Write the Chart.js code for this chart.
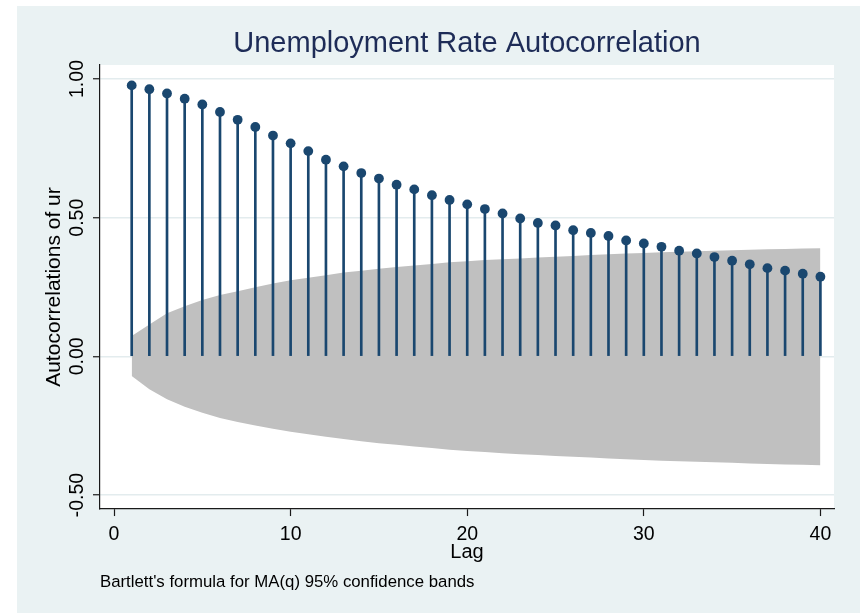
<!DOCTYPE html>
<html>
<head>
<meta charset="utf-8">
<script src="https://cdn.jsdelivr.net/npm/chart.js@4"></script>
<style>
  html, body { margin: 0; padding: 0; background: #fff; }
  #wrap { width: 860px; height: 613px; }
</style>
</head>
<body>
<div id="wrap"><canvas id="acfChart" width="860" height="613"></canvas></div>
<script>
// Lags and sample autocorrelations of the unemployment rate
const lags = [1, 2, 3, 4, 5, 6, 7, 8, 9, 10, 11, 12, 13, 14, 15, 16, 17, 18, 19, 20,
              21, 22, 23, 24, 25, 26, 27, 28, 29, 30, 31, 32, 33, 34, 35, 36, 37, 38, 39, 40];
const acf = [0.977, 0.963, 0.948, 0.929, 0.908, 0.881, 0.853, 0.827, 0.796, 0.768,
             0.740, 0.709, 0.685, 0.661, 0.641, 0.619, 0.602, 0.581, 0.564, 0.548,
             0.531, 0.515, 0.497, 0.481, 0.472, 0.455, 0.445, 0.434, 0.418, 0.407,
             0.395, 0.381, 0.371, 0.358, 0.345, 0.332, 0.318, 0.309, 0.298, 0.287];

// Bartlett 95% confidence band limits
const bandUpper = [0.073, 0.115, 0.155, 0.181, 0.203, 0.221, 0.235, 0.249, 0.263, 0.274,
                   0.283, 0.292, 0.302, 0.309, 0.316, 0.322, 0.328, 0.333, 0.339, 0.343,
                   0.347, 0.350, 0.353, 0.356, 0.359, 0.362, 0.365, 0.368, 0.371, 0.373,
                   0.375, 0.377, 0.379, 0.381, 0.383, 0.384, 0.386, 0.387, 0.389, 0.390];
const bandLower = [-0.071, -0.119, -0.155, -0.182, -0.203, -0.222, -0.237, -0.249, -0.261, -0.272,
                   -0.281, -0.290, -0.298, -0.306, -0.313, -0.319, -0.325, -0.330, -0.337, -0.341,
                   -0.345, -0.349, -0.353, -0.356, -0.359, -0.362, -0.365, -0.368, -0.371, -0.374,
                   -0.376, -0.378, -0.380, -0.382, -0.384, -0.386, -0.388, -0.390, -0.391, -0.393];

const xTicks = [0, 10, 20, 30, 40];
const yTicks = [-0.5, 0, 0.5, 1.0];

const FONT = "'Liberation Sans', Arial, Helvetica, sans-serif";
const NAVY = '#1a476f';
const AXIS = '#1a1a1a';

Chart.defaults.font.family = FONT;

const pts = arr => lags.map((l, i) => ({ x: l, y: arr[i] }));

// Page background, outer panel and white plot region
const backdrop = {
  id: 'backdrop',
  beforeDraw(chart) {
    const { ctx, chartArea: a } = chart;
    ctx.save();
    ctx.fillStyle = '#ffffff';
    ctx.fillRect(0, 0, chart.width, chart.height);
    ctx.fillStyle = '#eaf2f3';
    ctx.fillRect(17, 6, chart.width - 17, chart.height - 6);
    ctx.fillStyle = '#ffffff';
    ctx.fillRect(a.left, a.top, a.right - a.left, a.bottom - a.top);
    ctx.restore();
  }
};

new Chart(document.getElementById('acfChart'), {
  type: 'scatter',
  data: {
    datasets: [
      {
        type: 'scatter',
        data: pts(acf),
        pointRadius: 4.9,
        pointBackgroundColor: NAVY,
        pointBorderWidth: 0,
        showLine: false,
        order: 1
      },
      {
        type: 'bar',
        data: pts(acf),
        backgroundColor: NAVY,
        borderWidth: 0,
        barThickness: 2,
        order: 2
      },
      {
        type: 'line',
        data: pts(bandUpper),
        borderWidth: 0,
        pointRadius: 0,
        tension: 0,
        fill: '+1',
        backgroundColor: '#c0c0c0',
        order: 3
      },
      {
        type: 'line',
        data: pts(bandLower),
        borderWidth: 0,
        pointRadius: 0,
        tension: 0,
        fill: false,
        order: 4
      }
    ]
  },
  options: {
    responsive: false,
    animation: false,
    events: [],
    devicePixelRatio: 1,
    layout: { padding: { left: 0, right: 26, top: 0, bottom: 0 } },
    scales: {
      x: {
        type: 'linear',
        min: -0.795,
        max: 40.77,
        offset: false,
        afterBuildTicks: s => { s.ticks = xTicks.map(v => ({ value: v })); },
        afterFit: s => { s.height = 63.4; s.paddingLeft = 0; s.paddingRight = 0; },
        grid: { drawOnChartArea: false, drawTicks: true, tickLength: 7, tickColor: AXIS, tickWidth: 1.2, offset: false },
        border: { display: true, color: AXIS, width: 1.2 },
        ticks: { autoSkip: false, maxRotation: 0, padding: 6.5, color: '#000', font: { size: 19.5 } },
        title: { display: true, text: 'Lag', color: '#000', font: { size: 20 }, padding: { top: 0, bottom: 7.5 } }
      },
      y: {
        type: 'linear',
        min: -0.5505,
        max: 1.0505,
        afterBuildTicks: s => { s.ticks = yTicks.map(v => ({ value: v })); },
        afterFit: s => { s.width = 100; s.paddingTop = 0; s.paddingBottom = 0; },
        grid: { color: '#e3ecee', lineWidth: 1.5, drawTicks: true, tickLength: 7, tickColor: AXIS, tickWidth: 1.2 },
        border: { display: true, color: AXIS, width: 1.2 },
        ticks: {
          minRotation: 90, maxRotation: 90, crossAlign: 'center', padding: -6.5,
          color: '#000', font: { size: 19.5 },
          callback: v => v.toFixed(2)
        },
        title: { display: true, text: 'Autocorrelations of ur', color: '#000', font: { size: 21 }, padding: { top: 41.8, bottom: 0 } }
      }
    },
    plugins: {
      legend: { display: false },
      tooltip: { enabled: false },
      title: {
        display: true,
        text: 'Unemployment Rate Autocorrelation',
        fullSize: false,
        color: '#1e2c57',
        font: { size: 29, weight: 'normal' },
        padding: { top: 26.9, bottom: 3.3 }
      },
      subtitle: {
        display: true,
        position: 'bottom',
        align: 'start',
        fullSize: false,
        text: "Bartlett's formula for MA(q) 95% confidence bands",
        color: '#000',
        font: { size: 16.8, weight: 'normal' },
        padding: { top: 0, bottom: 20.4 }
      }
    }
  },
  plugins: [backdrop]
});
</script>
</body>
</html>
